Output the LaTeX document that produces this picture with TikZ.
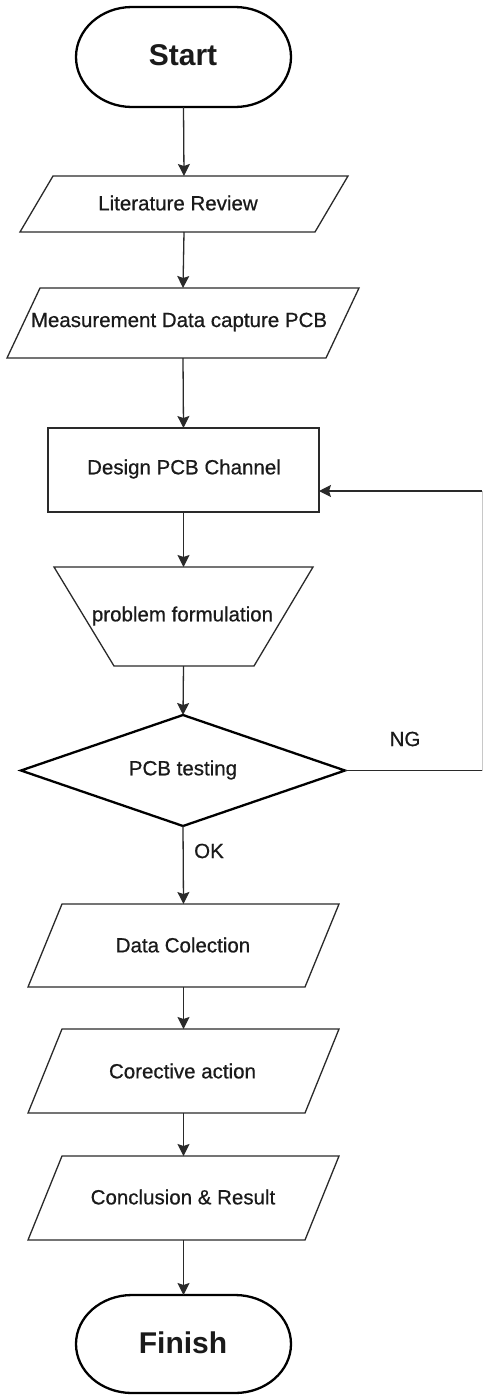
\documentclass[tikz,border=0pt]{standalone}
\usepackage{fontspec}
\setmainfont{Liberation Sans}
\newfontfamily\labelfont[FakeBold=0.6]{Liberation Sans}
\usetikzlibrary{arrows.meta}
\definecolor{ink}{HTML}{1A1A1A}
\definecolor{edge}{HTML}{2A2A2A}
\definecolor{faint}{HTML}{C8C8C8}
\tikzset{
  bbox/.style={inner sep=0pt, outer sep=0pt, minimum width=#1},
  lbl/.style={text=ink, font=\labelfont\fontsize{20.5}{24}\selectfont, inner sep=0pt},
  term/.style={text=ink, font=\fontsize{30}{34}\selectfont\bfseries, inner sep=0pt},
  thin/.style={draw=edge, line width=1.3pt},
  thick/.style={draw=black, line width=2.3pt},
  conn/.style={draw=edge, line width=1.3pt, -{Stealth[length=12pt,width=12pt,inset=2pt]}},
}
\begin{document}
\begin{tikzpicture}[x=1pt,y=-1pt]
\useasboundingbox[fill=white] (0,0) rectangle (485,1395);

% invisible frames for each step
\node[bbox=215pt, minimum height=100pt] (start) at (183.5,57) {};
\node[bbox=328pt, minimum height=56pt] (lit) at (184,204) {};
\node[bbox=352pt, minimum height=70pt] (meas) at (183,323) {};
\node[bbox=271pt, minimum height=84pt] (design) at (183.5,470) {};
\node[bbox=259pt, minimum height=99pt] (prob) at (183.5,616.5) {};
\node[bbox=324pt, minimum height=111pt] (test) at (183,770.5) {};
\node[bbox=311pt, minimum height=83pt] (data) at (183.5,945.5) {};
\node[bbox=311pt, minimum height=84pt] (corr) at (183.5,1071) {};
\node[bbox=311pt, minimum height=84pt] (concl) at (183.5,1198) {};
\node[bbox=215pt, minimum height=98pt] (finish) at (183.5,1344) {};

% outlines
\draw[thick] ([xshift=56pt]start.north west) -- ([xshift=-56pt]start.north east)
  arc[start angle=-90, end angle=90, x radius=56, y radius=50]
  -- ([xshift=56pt]start.south west)
  arc[start angle=90, end angle=270, x radius=56, y radius=50] -- cycle;
\draw[thin] ([xshift=33pt]lit.north west) -- (lit.north east) -- ([xshift=-33pt]lit.south east) -- (lit.south west) -- cycle;
\draw[thin] ([xshift=33pt]meas.north west) -- (meas.north east) -- ([xshift=-33pt]meas.south east) -- (meas.south west) -- cycle;
\draw[thin] (design.north west) rectangle (design.south east);
\draw[thin] (prob.north west) -- (prob.north east) -- ([xshift=-59pt]prob.south east) -- ([xshift=60pt]prob.south west) -- cycle;
\draw[thick] (test.north) -- (test.east) -- (test.south) -- (test.west) -- cycle;
\draw[thin] ([xshift=34pt]data.north west) -- (data.north east) -- ([xshift=-34pt]data.south east) -- (data.south west) -- cycle;
\draw[thin] ([xshift=34pt]corr.north west) -- (corr.north east) -- ([xshift=-34pt]corr.south east) -- (corr.south west) -- cycle;
\draw[thin] ([xshift=34pt]concl.north west) -- (concl.north east) -- ([xshift=-34pt]concl.south east) -- (concl.south west) -- cycle;
\draw[thick] ([xshift=56pt]finish.north west) -- ([xshift=-56pt]finish.north east)
  arc[start angle=-90, end angle=90, x radius=56, y radius=49]
  -- ([xshift=56pt]finish.south west)
  arc[start angle=90, end angle=270, x radius=56, y radius=49] -- cycle;

% texts
\node[term] (tstart) at (183,55) {Start};
\node[lbl] (tlit) at (178,203) {Literature Review};
\node[lbl] (tmeas) at (179,322) {Measurement Data capture PCB};
\node[lbl] (tdesign) at (184,469) {Design PCB Channel};
\node[lbl] (tprob) at (182.5,616) {problem formulation};
\node[lbl] (ttest) at (183,770) {PCB testing};
\node[lbl] (tdata) at (183,945) {Data Colection};
\node[lbl] (tcorr) at (182.5,1071) {Corective action};
\node[lbl] (tconcl) at (183,1197) {Conclusion \& Result};
\node[term] (tfinish) at (183,1343) {Finish};
\node[lbl] (ng) at (405,739) {NG};
\node[lbl] (ok) at (209,851) {OK};

% connectors
\draw[conn] (start.south) -- (lit.north);
\draw[conn] (lit.south) -- (meas.north);
\draw[conn] (meas.south) -- (design.north);
\draw[conn] (design.south) -- (prob.north);
\draw[conn] (prob.south) -- (test.north);
\draw[conn] (test.south) -- (data.north);
\draw[conn] (data.south) -- (corr.north);
\draw[conn] (corr.south) -- (concl.north);
\draw[conn] (concl.south) -- (finish.north);

% NG return loop
\coordinate (rbot) at (482,770.5);
\coordinate (rtop) at (482,491);
\draw[thin] (test.east) -- (rbot);
\draw[draw=faint, line width=1pt] (rbot) -- (rtop);
\draw[conn] (rtop) -- (design.east |- rtop);
\end{tikzpicture}
\end{document}
